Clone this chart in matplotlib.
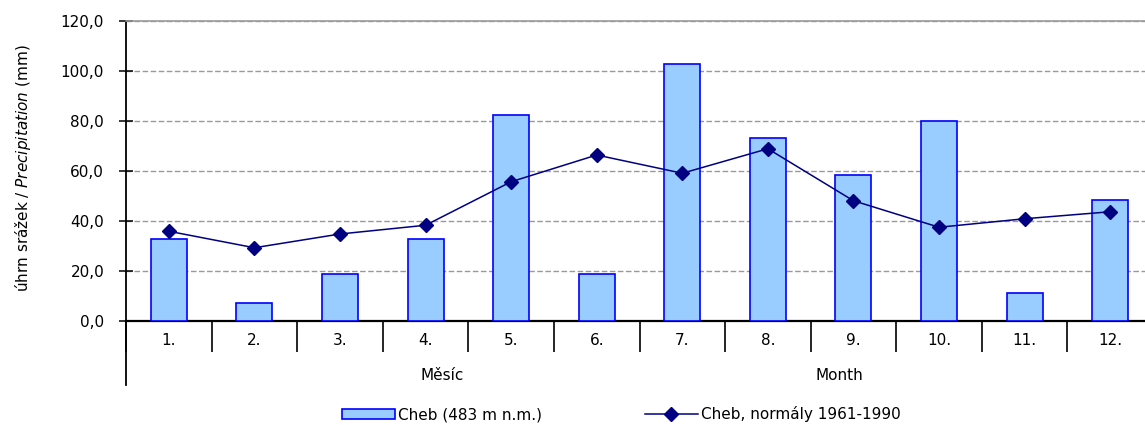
import matplotlib
matplotlib.use("Agg")
import matplotlib.pyplot as plt
from matplotlib.ticker import FixedLocator, FuncFormatter, NullFormatter

months = ["1.", "2.", "3.", "4.", "5.", "6.", "7.", "8.", "9.", "10.", "11.", "12."]
precip = [32.7, 7.1, 18.8, 32.7, 82.4, 18.8, 102.9, 73.3, 58.3, 80.0, 11.1, 48.4]
normal = [35.9, 29.3, 34.8, 38.3, 55.7, 66.4, 59.1, 68.9, 48.1, 37.5, 40.9, 43.7]
bar_label = "Cheb (483 m n.m.)"
line_label = "Cheb, normály 1961-1990"

plt.rcParams['font.family'] = ['DejaVu Sans']
plt.rcParams['mathtext.fontset'] = 'custom'
plt.rcParams['mathtext.rm'] = 'DejaVu Sans'
plt.rcParams['mathtext.it'] = 'DejaVu Sans:italic'

FS = 11
W, H = 1145, 425
fig = plt.figure(figsize=(W / 100, H / 100), dpi=100)
ax = fig.add_axes([126 / W, (H - 321) / H, 1027 / W, 300 / H])

x = list(range(1, 13))
bars = ax.bar(x, precip, width=0.42, color="#99CCFF", edgecolor="#0000FF",
              linewidth=1.2, label=bar_label, zorder=3)
line, = ax.plot(x, normal, color="#000080", linewidth=1.1, marker="D", markersize=7.4,
                markerfacecolor="#000080", markeredgecolor="#000080", label=line_label, zorder=4)

ax.set_xlim(0.5, 12.5)
ax.set_ylim(0, 120)
ax.set_yticks([0, 20, 40, 60, 80, 100, 120])
ax.yaxis.set_major_formatter(FuncFormatter(lambda v, p: f"{v:.1f}".replace(".", ",")))
ax.yaxis.grid(True, color="#999999", linestyle=(0, (4, 1.8)), linewidth=1.0, zorder=0)
ax.set_axisbelow(True)

# x axis: boundary ticks (major) and labels at category centers (minor)
ax.xaxis.set_major_locator(FixedLocator([i + 0.5 for i in range(0, 13)]))
ax.xaxis.set_major_formatter(NullFormatter())
ax.xaxis.set_minor_locator(FixedLocator(x))
ax.set_xticklabels(months, minor=True)
ax.tick_params(axis="x", which="major", direction="out", length=22.5, width=1.2, color="black")
ax.tick_params(axis="x", which="minor", length=0, pad=8.5, labelsize=FS)
ax.tick_params(axis="y", direction="inout", length=9.5, width=1.1, pad=11, labelsize=FS)

ax.spines["right"].set_visible(False)
ax.spines["top"].set_color("#999999")
ax.spines["top"].set_linewidth(1.2)
ax.spines["bottom"].set_linewidth(1.6)
ax.spines["left"].set_linewidth(1.3)
ax.spines["left"].set_bounds(-25.6, 120)

ax.set_ylabel(r"úhrn srážek / $\mathit{Precipitation}$ (mm)", fontsize=FS)
ax.yaxis.set_label_coords(-0.0906, 0.51)

fig.text(442 / W, 1 - 376 / H, "Měsíc", ha="center", va="center", fontsize=FS)
fig.text(839 / W, 1 - 376 / H, "Month", ha="center", va="center", fontsize=FS)

fig.legend(handles=[bars, line], labels=[bar_label, line_label],
           loc="center left", bbox_to_anchor=(342 / W, 1 - 414 / H), ncol=2, frameon=False,
           fontsize=FS, handlelength=3.47, handleheight=0.65, handletextpad=0.22,
           columnspacing=6.7, borderaxespad=0, borderpad=0)

fig.savefig("out.png", dpi=100)
